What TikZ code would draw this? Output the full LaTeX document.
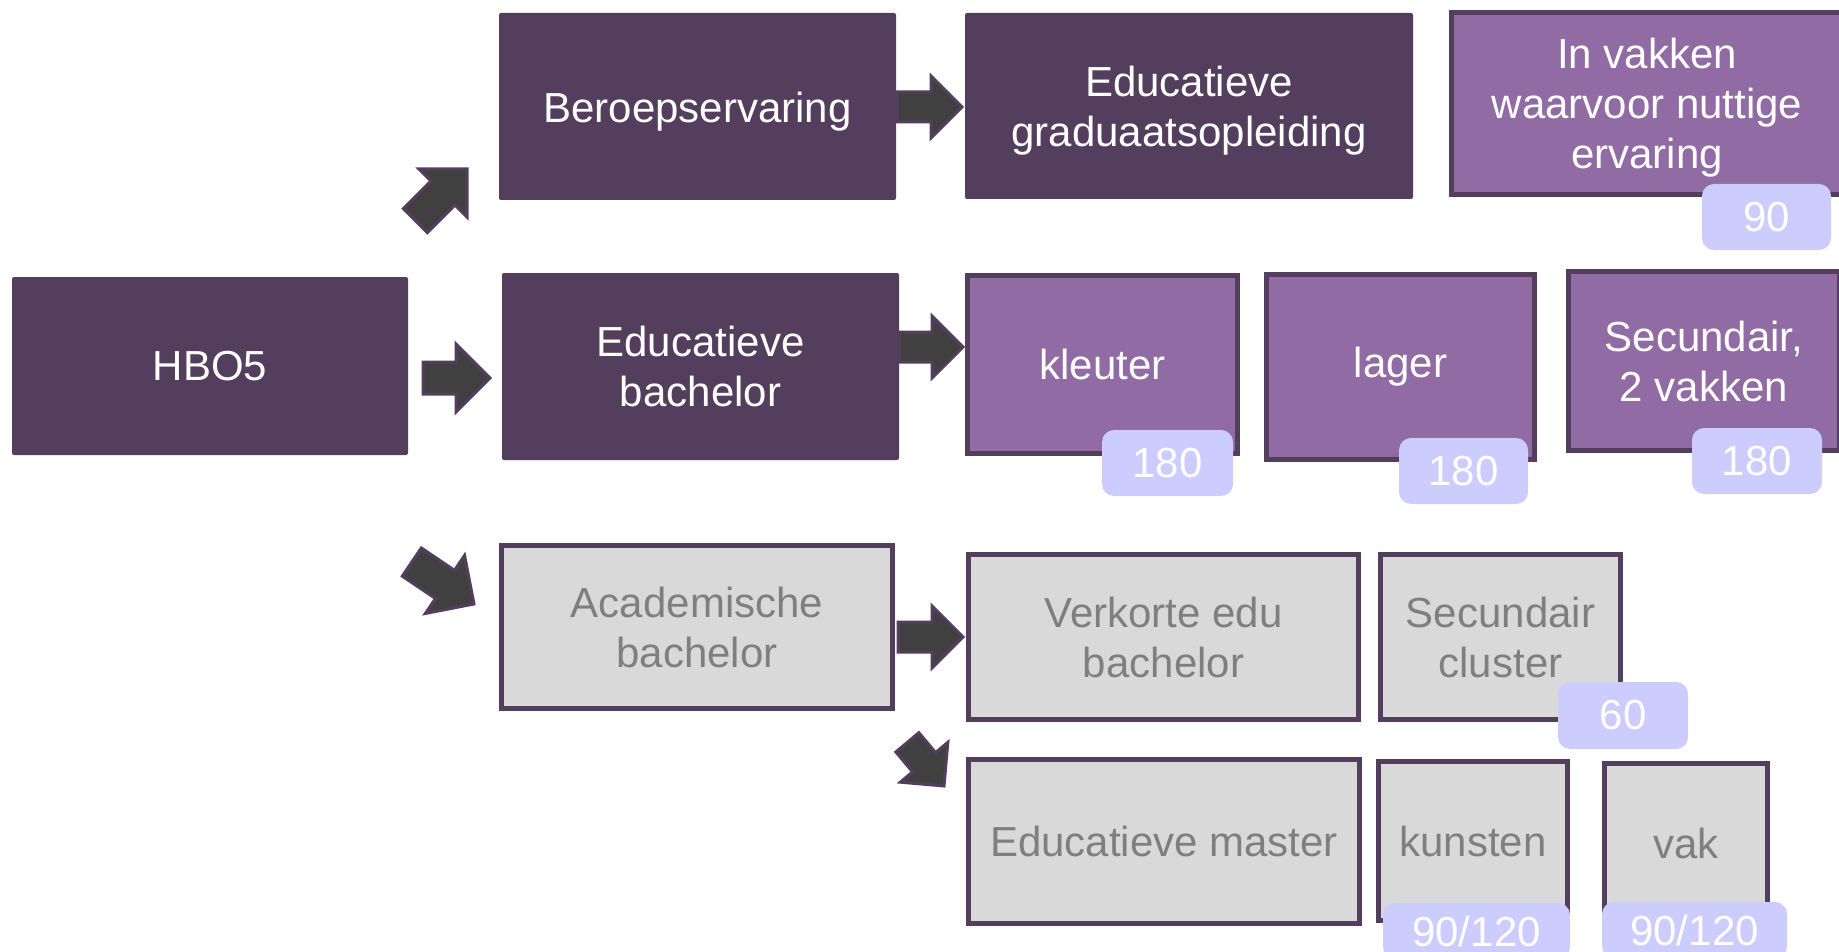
\documentclass[tikz,border=0pt]{standalone}
\usepackage{fontspec}
\setmainfont{Liberation Sans}
\definecolor{dpurple}{RGB}{84,62,94}
\definecolor{lpurple}{RGB}{145,107,164}
\definecolor{badgec}{RGB}{204,204,255}
\definecolor{graybox}{RGB}{217,217,217}
\definecolor{graytext}{RGB}{127,127,127}
\definecolor{arrowfill}{RGB}{64,64,64}
\tikzset{
 base/.style={inner sep=0pt, align=center, font=\fontsize{42}{50}\selectfont},
 darkbox/.style={base, fill=dpurple, text=white, rounded corners=2pt},
 lightbox/.style={base, fill=lpurple, draw=dpurple, line width=5pt, text=white},
 greybox/.style={base, fill=graybox, draw=dpurple, line width=5pt, text=graytext},
 badge/.style={base, fill=badgec, text=white, rounded corners=12pt},
 lowlabel/.style={base, text=white, yshift=-5pt},
 blockarrow/.style={fill=arrowfill, draw=dpurple, line width=3pt, line join=miter},
}
% #1 tip, #2 angle, #3 length, #4 head half width, #5 shaft half width
\newcommand\myblockarrow[5]{%
 \begin{scope}[shift={#1}, rotate=#2]
  \draw[blockarrow] (0,0) -- (-#4,#4) -- (-#4,#5) -- (-#3,#5) -- (-#3,-#5) -- (-#4,-#5) -- (-#4,-#4) -- cycle;
 \end{scope}}
\begin{document}
\begin{tikzpicture}[x=1pt,y=-1pt]
\clip (0,0) rectangle (1839,952);
% row 1
\node[darkbox, minimum width=397pt, minimum height=187pt,
  label={[lowlabel, name=beroep-t]center:{Beroepservaring}}] (beroep) at (697.5,106.5) {};
\node[darkbox, minimum width=448pt, minimum height=186pt,
  label={[lowlabel, name=grad-t]center:{Educatieve\\graduaatsopleiding}}] (grad) at (1189,106) {};
\node[lightbox, minimum width=391pt, minimum height=182pt,
  label={[lowlabel, yshift=1pt, name=invak-t]center:{In vakken\\waarvoor nuttige\\ervaring}}] (invak) at (1647,103.5) {};
% row 2
\node[darkbox, minimum width=396pt, minimum height=178pt] (hbo) at (210,366) {HBO5};
\node[darkbox, minimum width=397pt, minimum height=187pt] (edubach) at (700.5,366.5) {Educatieve\\bachelor};
\node[lightbox, minimum width=270pt, minimum height=178pt] (kleuter) at (1102.5,364.5) {kleuter};
\node[lightbox, minimum width=268pt, minimum height=185pt] (lager) at (1400.5,367) {lager};
\node[lightbox, minimum width=271pt, minimum height=179pt] (secund) at (1704,361) {Secundair,\\2 vakken};
% row 3
\node[greybox, minimum width=391pt, minimum height=163pt] (acad) at (697,627) {Academische\\bachelor};
\node[greybox, minimum width=390pt, minimum height=165pt] (verk) at (1163.5,637) {Verkorte edu\\bachelor};
\node[greybox, minimum width=240pt, minimum height=165pt] (seccl) at (1500.5,637) {Secundair\\cluster};
% row 4
\node[greybox, minimum width=391pt, minimum height=164pt] (master) at (1164,841.5) {Educatieve master};
\node[greybox, minimum width=189pt, minimum height=159pt] (kunsten) at (1473,841) {kunsten};
\node[greybox, minimum width=163pt, minimum height=160pt] (vak) at (1686,843.5) {vak};
% badges
\node[badge, minimum width=129pt, minimum height=66pt] (b90) at (1766.5,217) {90};
\node[badge, minimum width=131pt, minimum height=66pt] (bk) at (1167.5,463) {180};
\node[badge, minimum width=129pt, minimum height=66pt] (bl) at (1463.5,471) {180};
\node[badge, minimum width=130pt, minimum height=66pt] (bs) at (1757,461) {180};
\node[badge, minimum width=130pt, minimum height=67pt] (b60) at (1623,715.5) {60};
\node[badge, minimum width=187pt, minimum height=56pt] (bku) at (1476.5,931) {90/120};
\node[badge, minimum width=185pt, minimum height=56pt] (bva) at (1694.5,930) {90/120};
% block arrows
\myblockarrow{(467,169)}{45}{73}{34}{17}
\myblockarrow{(962,107)}{0}{65}{31}{15}
\myblockarrow{(490,378)}{0}{67}{34}{16}
\myblockarrow{(963,347)}{0}{64}{31}{15}
\myblockarrow{(474,604)}{-34}{75}{35}{17}
\myblockarrow{(963,637)}{0}{65}{31}{15}
\myblockarrow{(944,786)}{-50}{57}{31}{15}
\end{tikzpicture}
\end{document}
